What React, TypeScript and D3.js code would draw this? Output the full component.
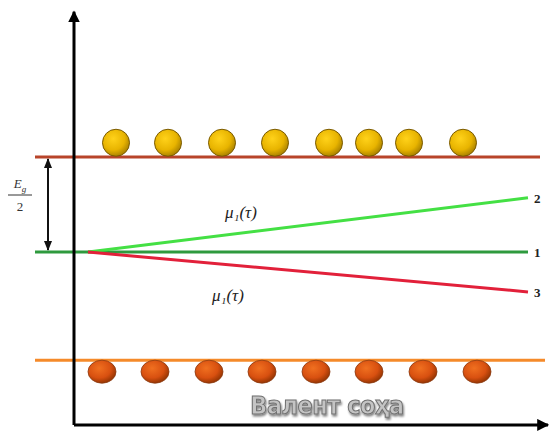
import React from "react";
import * as d3 from "d3";

// Energy levels (units of Eg/2 from the Fermi level) and positions along the sample
const levels = { conduction: 1, fermi: 0, valence: -1.14 };
const lineStart = -39;
const lineEnd = 466;
const branchStart = 14;
const branchEnd = 454;
const branchUp = 0.57; // curve 2
const branchDown = -0.42; // curve 3
const topParticlesX = [42, 94, 148, 201, 255, 295, 335, 389];
const topParticleLevel = 1.15;
const bottomParticlesX = [28, 81, 135, 188, 242, 295, 349, 403];
const bottomParticleLevel = -1.26;
const curveLabels = ["2", "1", "3"];
const muLabel = "μ₁(τ)";
const bandLabel = "Валент соҳа";

const W = 549;
const H = 432;

export default function App() {
  const x = d3.scaleLinear().domain([0, 475]).range([74, 549]);
  const y = d3.scaleLinear().domain([0, 1]).range([252, 157]);
  const axisBottom = -1.82;
  const axisTop = 2.53;
  const line = d3.line<[number, number]>().x((d) => x(d[0])).y((d) => y(d[1]));

  return (
    <svg width={W} height={H} style={{ position: "absolute", left: 0, top: 0, background: "#fff" }}>
      <defs>
        <radialGradient id="gold" cx="40%" cy="35%" r="70%">
          <stop offset="0%" stopColor="#ffd21a" />
          <stop offset="60%" stopColor="#e8b400" />
          <stop offset="100%" stopColor="#a07a00" />
        </radialGradient>
        <radialGradient id="rust" cx="40%" cy="35%" r="70%">
          <stop offset="0%" stopColor="#f07020" />
          <stop offset="60%" stopColor="#d85010" />
          <stop offset="100%" stopColor="#8a3000" />
        </radialGradient>
        <marker id="arrowHead" viewBox="0 0 10 10" refX="9" refY="5" markerWidth="4" markerHeight="4" orient="auto">
          <path d="M0,0 L10,5 L0,10 z" fill="#000" />
        </marker>
        <marker id="dimHead" viewBox="0 0 10 10" refX="9" refY="5" markerWidth="5" markerHeight="5" orient="auto-start-reverse">
          <path d="M0,1 L10,5 L0,9 z" fill="#111" />
        </marker>
        <filter id="shadow" x="-10%" y="-20%" width="120%" height="150%">
          <feGaussianBlur in="SourceAlpha" stdDeviation="1.2" />
          <feOffset dx="1" dy="1.5" result="b" />
          <feComponentTransfer><feFuncA type="linear" slope="0.5" /></feComponentTransfer>
          <feMerge><feMergeNode /><feMergeNode in="SourceGraphic" /></feMerge>
        </filter>
      </defs>

      {/* conduction band edge */}
      <path d={line([[lineStart, levels.conduction], [lineEnd, levels.conduction]])!} stroke="#b8442a" strokeWidth={3} fill="none" />
      {/* valence band edge */}
      <path d={line([[lineStart, levels.valence], [lineEnd + 5, levels.valence]])!} stroke="#f58a2a" strokeWidth={3} fill="none" />
      {/* Fermi level, curve 1 */}
      <path d={line([[lineStart, levels.fermi], [branchEnd, levels.fermi]])!} stroke="#2e9a3e" strokeWidth={3} fill="none" />
      {/* curve 2 */}
      <path d={line([[branchStart, 0], [branchEnd, branchUp]])!} stroke="#44e044" strokeWidth={3} fill="none" />
      {/* curve 3 */}
      <path d={line([[branchStart, 0], [branchEnd, branchDown]])!} stroke="#e2203a" strokeWidth={3} fill="none" />

      {/* particles */}
      {topParticlesX.map((p, i) => (
        <circle key={"t" + i} cx={x(p)} cy={y(topParticleLevel)} r={13.5} fill="url(#gold)" stroke="#7a5a00" strokeWidth={1} />
      ))}
      {bottomParticlesX.map((p, i) => (
        <ellipse key={"b" + i} cx={x(p)} cy={y(bottomParticleLevel)} rx={14} ry={11.5} fill="url(#rust)" stroke="#8a3a10" strokeWidth={0.8} />
      ))}

      {/* axes */}
      <path d={`M${x(0)},${y(axisBottom)} L${x(0)},${y(axisTop)}`} stroke="#000" strokeWidth={3} fill="none" markerEnd="url(#arrowHead)" />
      <path d={`M${x(0)},${y(axisBottom)} L${x(474)},${y(axisBottom)}`} stroke="#000" strokeWidth={3} fill="none" markerEnd="url(#arrowHead)" />

      {/* Eg/2 dimension */}
      <path d={`M${x(-26)},${y(levels.conduction) + 2} L${x(-26)},${y(levels.fermi) - 2}`} stroke="#111" strokeWidth={2} fill="none" markerStart="url(#dimHead)" markerEnd="url(#dimHead)" />
      <text x={20} y={188} textAnchor="middle" fontFamily="'Liberation Serif', serif" fontStyle="italic" fontSize={13} fill="#333">
        E<tspan fontSize={9} dy={4}>g</tspan>
      </text>
      <line x1={8} x2={32} y1={195} y2={195} stroke="#333" strokeWidth={1} />
      <text x={20} y={211} textAnchor="middle" fontFamily="'Liberation Serif', serif" fontSize={13} fill="#333">2</text>

      {/* curve labels */}
      {[branchUp, levels.fermi, branchDown].map((v, i) => (
        <text key={"c" + i} x={x(branchEnd) + 6} y={y(v) + 5} fontFamily="'Liberation Serif', serif" fontWeight="bold" fontSize={13} fill="#222">
          {curveLabels[i]}
        </text>
      ))}
      <text x={x(151)} y={y(0.36)} fontFamily="'Liberation Serif', serif" fontStyle="italic" fontSize={17} fill="#222">{muLabel}</text>
      <text x={x(138)} y={y(-0.52)} fontFamily="'Liberation Serif', serif" fontStyle="italic" fontSize={17} fill="#222">{muLabel}</text>

      {/* band label */}
      <text x={x(253)} y={y(-1.71)} textAnchor="middle" fontFamily="'DejaVu Sans Condensed', 'DejaVu Sans', sans-serif" fontWeight="bold" fontSize={25}
        fill="#c4c4c4" stroke="#707070" strokeWidth={1} filter="url(#shadow)" letterSpacing={-0.5}>
        {bandLabel}
      </text>
    </svg>
  );
}
